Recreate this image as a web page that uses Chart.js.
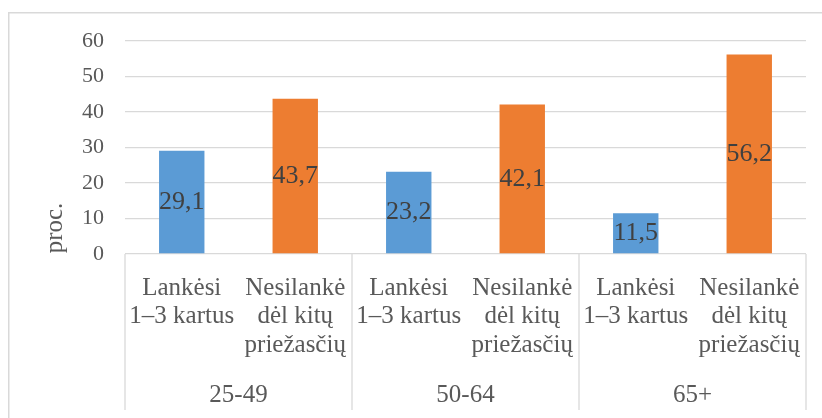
<!DOCTYPE html>
<html>
<head>
<meta charset="utf-8">
<script src="https://cdn.jsdelivr.net/npm/chart.js@4"></script>
<style>
  html, body { margin:0; padding:0; background:#fff; overflow:hidden; }
  canvas { position:absolute; left:0; top:0; }
  #prime { position:absolute; left:-2000px; top:0; font:25px "Liberation Serif"; }
</style>
</head>
<body>
<span id="prime">Lankėsi 1–3 kartus 0123456789,</span>
<canvas id="chart" width="822" height="418"></canvas>
<script>
// ==========================
// DATA
// ==========================
const categories = [
  ["Lankėsi","1–3 kartus"], ["Nesilankė","dėl kitų","priežasčių"],
  ["Lankėsi","1–3 kartus"], ["Nesilankė","dėl kitų","priežasčių"],
  ["Lankėsi","1–3 kartus"], ["Nesilankė","dėl kitų","priežasčių"]
];
const groups = ["25-49","50-64","65+"];
const visited = [29.1, 23.2, 11.5];      // Lankėsi 1–3 kartus
const notVisited = [43.7, 42.1, 56.2];   // Nesilankė dėl kitų priežasčių
const yTitle = "proc.";
const yMax = 60, yStep = 10;

// one bar per category: blue on even slots, orange on odd
const visitedData = [], notVisitedData = [];
groups.forEach((g,i)=>{
  visitedData.push(visited[i], null);
  notVisitedData.push(null, notVisited[i]);
});

const SERIF = "Liberation Serif";
const GRID = "#d9d9d9";
const TEXT = "#595959";
Chart.defaults.font.family = SERIF;
Chart.defaults.color = TEXT;

// ==========================
// PLUGIN: frame, value labels, group axis, y title
// ==========================
const extras = {
  id:"extras",
  beforeDraw(chart){
    const ctx = chart.ctx;
    ctx.save();
    ctx.strokeStyle = GRID;
    ctx.lineWidth = 1.5;
    ctx.strokeRect(8.75, 12.75, 830, 420);
    ctx.restore();
  },
  afterDatasetsDraw(chart){
    const ctx = chart.ctx;
    ctx.save();
    ctx.font = "26px " + SERIF;
    ctx.fillStyle = "#404040";
    ctx.textAlign = "center";
    ctx.textBaseline = "middle";
    chart.data.datasets.forEach((ds,di)=>{
      chart.getDatasetMeta(di).data.forEach((bar,i)=>{
        const v = ds.data[i];
        if(v==null) return;
        const p = bar.getCenterPoint();
        ctx.fillText(v.toFixed(1).replace(".",","), p.x, p.y);
      });
    });
    ctx.restore();
  },
  afterDraw(chart){
    const ctx = chart.ctx;
    const x = chart.scales.x, y = chart.scales.y;
    const step = x.getPixelForValue(1) - x.getPixelForValue(0);
    const bottom = y.getPixelForValue(0);
    ctx.save();
    // group separators
    ctx.strokeStyle = GRID;
    ctx.lineWidth = 1.3;
    for(let g=0; g<=groups.length; g++){
      const px = x.getPixelForValue(g*2) - step/2;
      ctx.beginPath();
      ctx.moveTo(px, bottom);
      ctx.lineTo(px, 410);
      ctx.stroke();
    }
    // group labels
    ctx.font = "25px " + SERIF;
    ctx.fillStyle = TEXT;
    ctx.textAlign = "center";
    ctx.textBaseline = "middle";
    groups.forEach((g,i)=>{
      const cx = (x.getPixelForValue(i*2) + x.getPixelForValue(i*2+1))/2;
      ctx.fillText(g, cx, 395);
    });
    // y title
    ctx.translate(55, 228);
    ctx.rotate(-Math.PI/2);
    ctx.fillText(yTitle, 0, 0);
    ctx.restore();
  }
};

// ==========================
// CHART
// ==========================
const chart = new Chart(document.getElementById("chart"),{
  type:"bar",
  data:{
    labels:categories,
    datasets:[
      {label:"Lankėsi 1–3 kartus", data:visitedData, backgroundColor:"#5B9BD5"},
      {label:"Nesilankė dėl kitų priežasčių", data:notVisitedData, backgroundColor:"#ED7D31"}
    ]
  },
  options:{
    responsive:false,
    animation:false,
    barPercentage:0.4,
    categoryPercentage:1,
    layout:{padding:{top:41, right:16, left:0, bottom:8}},
    plugins:{legend:{display:false}},
    scales:{
      x:{
        stacked:true,
        grid:{display:false, drawTicks:false},
        border:{display:false},
        ticks:{
          color:TEXT, font:{family:SERIF, size:25, lineHeight:1.14},
          padding:20, maxRotation:0, autoSkip:false
        },
        afterFit(s){ s.height = 156; }
      },
      y:{
        stacked:true,
        min:0, max:yMax,
        grid:{color:GRID, lineWidth:1.3, drawTicks:false},
        border:{display:false},
        ticks:{stepSize:yStep, color:TEXT, font:{family:SERIF, size:22}, padding:21},
        afterFit(s){ s.width = 125; }
      }
    }
  }
  ,plugins:[extras]
});

// redraw once the serif face is surely in use
document.fonts.ready.then(()=>chart.update());
setTimeout(()=>chart.update(), 150);
</script>
</body>
</html>
